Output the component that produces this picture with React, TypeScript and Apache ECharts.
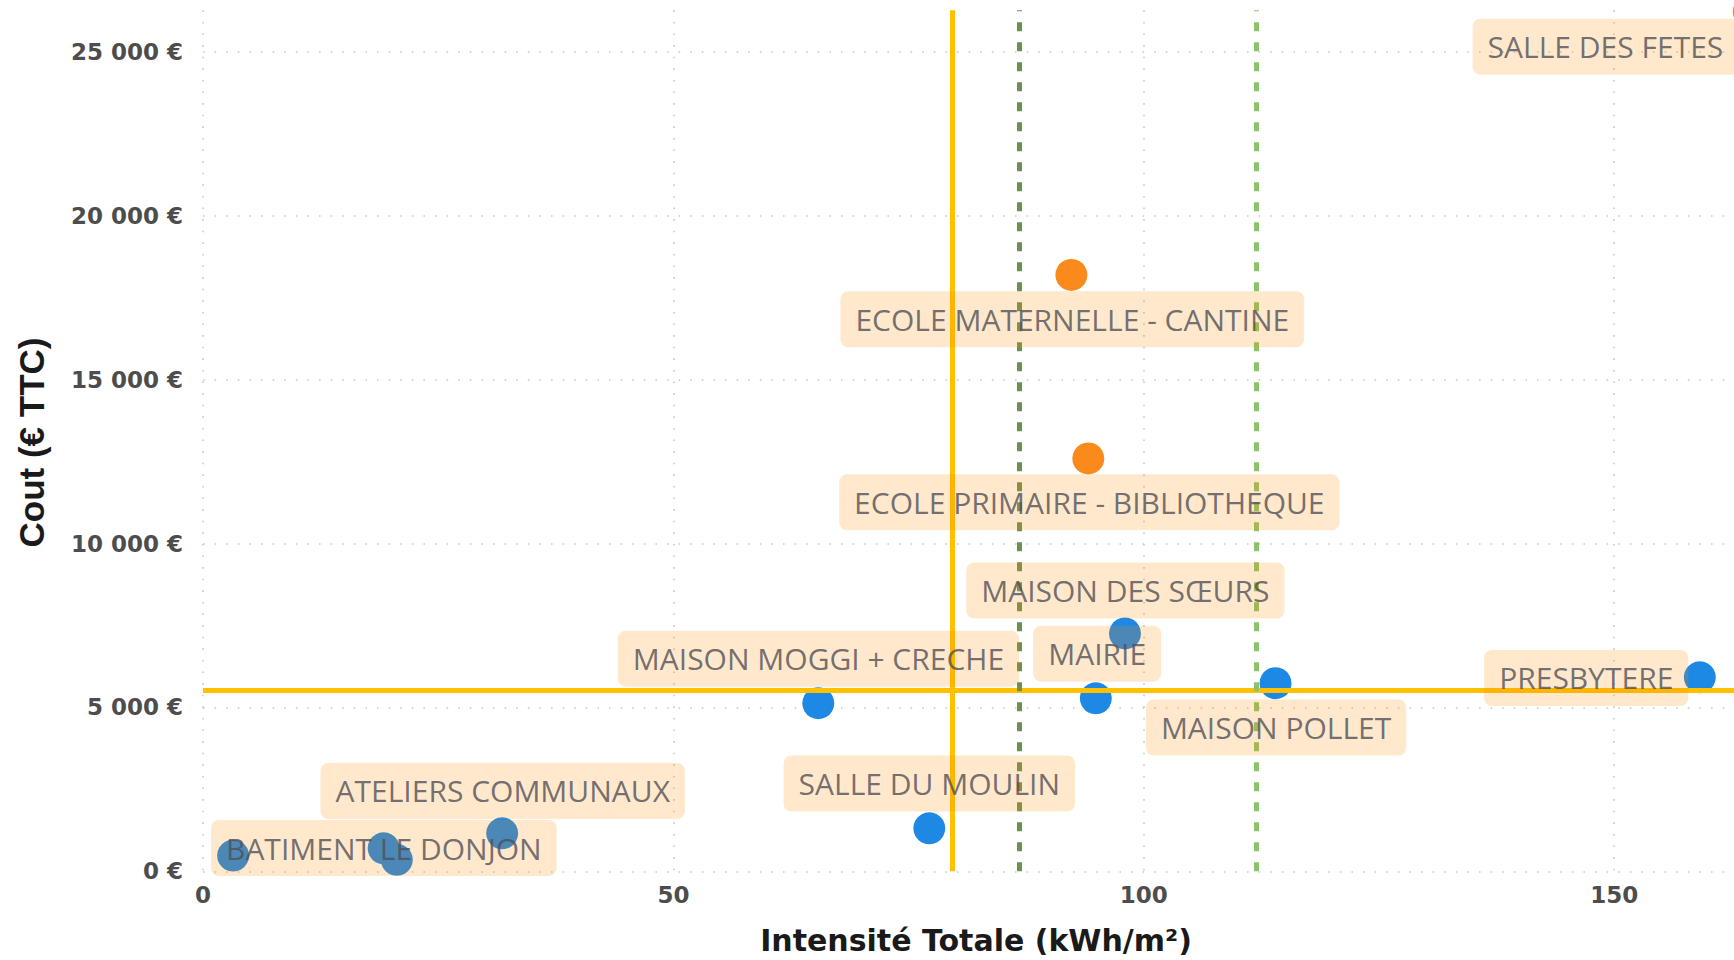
import React, { useEffect, useRef } from "react";
import * as echarts from "echarts";

// ---- data ----
const names = [
  "",
  "BATIMENT LE DONJON",
  "",
  "ATELIERS COMMUNAUX",
  "MAISON MOGGI + CRECHE",
  "SALLE DU MOULIN",
  "MAIRIE",
  "MAISON DES SŒURS",
  "MAISON POLLET",
  "PRESBYTERE",
  "ECOLE MATERNELLE - CANTINE",
  "ECOLE PRIMAIRE - BIBLIOTHEQUE",
  "SALLE DES FETES",
];
const intensity = [3.2, 19.2, 20.6, 31.8, 65.4, 77.2, 94.9, 98.0, 114.0, 159.1, 92.3, 94.1, 164.3];
const cost = [480, 700, 350, 1160, 5130, 1310, 5280, 7260, 5740, 5920, 18200, 12600, 26230];
const group = ["bas", "bas", "bas", "bas", "bas", "bas", "bas", "bas", "bas", "bas", "haut", "haut", "haut"];
// label anchor positions (repelled), in data units
const labelX = [null, 19.22, null, 31.86, 65.42, 77.2, 95.04, 98.04, 114.06, 147.03, 92.4, 94.21, 149.07];
const labelY = [null, 711, null, 2451, 6489, 2680, 6641, 8570, 4389, 5900, 16847, 11260, 25167];

const xTicks = [0, 50, 100, 150];
const yTicks = [0, 5000, 10000, 15000, 20000, 25000];
const costReference = 5530;
const intensityReference = 79.6;
const greenLow = 86.8;
const greenHigh = 111.9;

const xTitle = "Intensité Totale (kWh/m²)";
const yTitle = "Cout (€ TTC)";

const groupColors: Record<string, string> = { bas: "#1E88E5", haut: "#FB8A1C" };

const fmtEuro = (v: number) =>
  String(v).replace(/\B(?=(\d{3})+(?!\d))/g, " ") + " €";

export default function App() {
  const ref = useRef<HTMLDivElement>(null);
  useEffect(() => {
    const chart = echarts.init(ref.current!, null, { renderer: "svg" });
    const pxPerX = 9.408;
    const pxPer5000 = 163.84;
    const xMax = 170;
    const yMax = 26275;
    const gridLeft = 203;
    const gridBottomY = 871.3;
    const gridH = (yMax / 5000) * pxPer5000;
    const gridW = xMax * pxPerX;

    const points = intensity.map((x, i) => ({
      value: [x, cost[i]],
      name: names[i],
      itemStyle: { color: groupColors[group[i]], opacity: 1 },
    }));
    const labels = names
      .map((n, i) => ({ n, i }))
      .filter((d) => d.n !== "" && labelX[d.i] != null)
      .map((d) => ({ value: [labelX[d.i], labelY[d.i]], name: d.n }));

    const gridLine = { color: "#c9c9c9", width: 1.6, type: [1.6, 10] };
    const axisLabelStyle = {
      fontFamily: "DejaVu Sans",
      fontWeight: "bold",
      fontSize: 23,
      color: "#4d4d4d",
    };

    chart.setOption({
      animation: false,
      backgroundColor: "#ffffff",
      grid: { left: gridLeft, top: gridBottomY - gridH, width: gridW, height: gridH },
      xAxis: {
        type: "value",
        min: 0,
        max: xMax,
        interval: 50,
        axisLine: { show: false },
        axisTick: { show: false },
        axisLabel: {
          ...axisLabelStyle,
          margin: 12,
          showMaxLabel: false,
          formatter: (v: number) => (xTicks.includes(v) ? String(v) : ""),
        },
        splitLine: { show: true, showMaxLine: false, lineStyle: gridLine },
      },
      yAxis: {
        type: "value",
        min: 0,
        max: yMax,
        interval: 5000,
        axisLine: { show: false },
        axisTick: { show: false },
        axisLabel: {
          ...axisLabelStyle,
          margin: 20,
          showMaxLabel: false,
          formatter: (v: number) => (yTicks.includes(v) ? fmtEuro(v) : ""),
        },
        splitLine: { show: true, showMaxLine: false, lineStyle: gridLine },
      },
      graphic: [
        {
          type: "text",
          x: 976,
          y: 940,
          style: {
            text: xTitle,
            font: 'bold 30px "DejaVu Sans"',
            fill: "#1a1a1a",
            align: "center",
            verticalAlign: "middle",
            textAlign: "center",
            textVerticalAlign: "middle",
          },
        },
        {
          type: "text",
          x: 31,
          y: 442.5,
          rotation: Math.PI / 2,
          style: {
            text: yTitle,
            font: 'bold 35px "Liberation Sans"',
            fill: "#1a1a1a",
            align: "center",
            verticalAlign: "middle",
            textAlign: "center",
            textVerticalAlign: "middle",
          },
        },
      ],
      series: [
        {
          type: "scatter",
          name: "batiments",
          z: 2,
          silent: true,
          symbolSize: 32,
          itemStyle: { opacity: 1 },
          data: points,
        },
        {
          type: "scatter",
          name: "references",
          z: 3,
          silent: true,
          data: [],
          markLine: {
            silent: true,
            z: 5,
            symbol: ["none", "none"],
            label: { show: false },
            data: [
              { yAxis: costReference, lineStyle: { color: "#FFC000", width: 5, type: "solid" } },
              { xAxis: intensityReference, lineStyle: { color: "#FFC000", width: 5, type: "solid" } },
              { xAxis: greenLow, lineStyle: { color: "#6a9150", width: 5, type: [9, 11] } },
              { xAxis: greenHigh, lineStyle: { color: "#8cc36a", width: 5, type: [9, 11] } },
            ],
          },
        },
        {
          type: "scatter",
          name: "etiquettes",
          z: 10,
          silent: true,
          symbolSize: 0,
          itemStyle: { color: "rgba(0,0,0,0)" },
          data: labels,
          label: {
            show: true,
            position: "inside",
            formatter: "{b}",
            fontFamily: "Open Sans",
            fontSize: 30,
            lineHeight: 32,
            color: "#4f4f55",
            backgroundColor: "rgba(255,140,0,0.25)",
            borderRadius: 8,
            padding: [12, 15, 12, 15],
          },
        },
      ],
    });
    return () => chart.dispose();
  }, []);
  return (
    <div
      style={{
        position: "fixed",
        left: 0,
        top: 0,
        width: 1734,
        height: 960,
        overflow: "hidden",
        background: "#ffffff",
      }}
    >
      <div ref={ref} style={{ width: 1810, height: 960 }} />
    </div>
  );
}
